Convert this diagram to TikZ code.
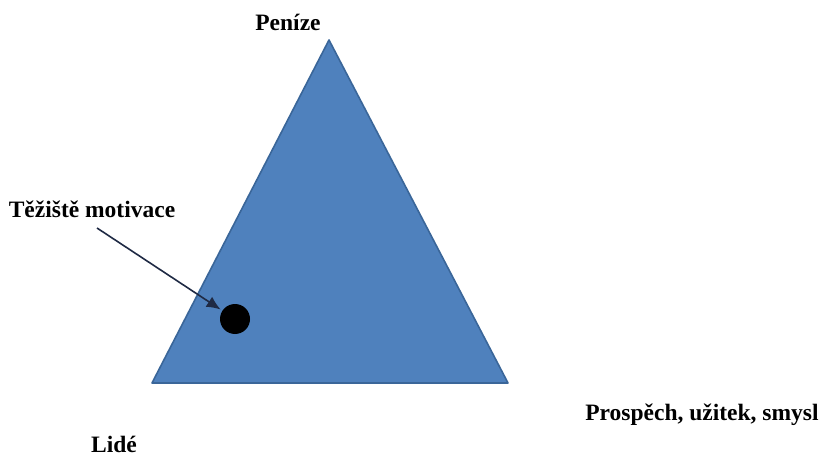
\documentclass[tikz,border=0pt]{standalone}
\usepackage{fontspec}
\setmainfont{Liberation Serif}
\usetikzlibrary{arrows.meta}
\definecolor{trifill}{HTML}{4F81BD}
\definecolor{triline}{HTML}{3A6699}
\definecolor{arrline}{HTML}{1F2A44}
\begin{document}
\begin{tikzpicture}[x=1pt,y=-1pt,
  lbl/.style={font=\fontsize{23.5}{27}\selectfont\bfseries, inner sep=0pt, text=black}]
\useasboundingbox (0,0) rectangle (822,457);
\coordinate (apex) at (329,40);
\coordinate (bl) at (152,383);
\coordinate (br) at (508,383);
\draw[fill=trifill, draw=triline, line width=1.6pt, line join=round] (apex) -- (bl) -- (br) -- cycle;
\node[circle, fill=black, minimum size=30pt, inner sep=0pt] (dot) at (235,319) {};
\node[lbl] (penize) at (288,22) {Peníze};
\node[lbl] (tez) at (92,209) {Těžiště motivace};
\node[lbl] (prosp) at (702,415) {Prospěch, užitek, smysl};
\node[lbl, anchor=base] (lide) at (114,452) {Lidé};
\coordinate (astart) at (97,228);
\draw[arrline, line width=1.6pt, shorten >=2pt, -{Latex[length=14pt,width=12pt]}] (astart) -- (dot);
\end{tikzpicture}
\end{document}
